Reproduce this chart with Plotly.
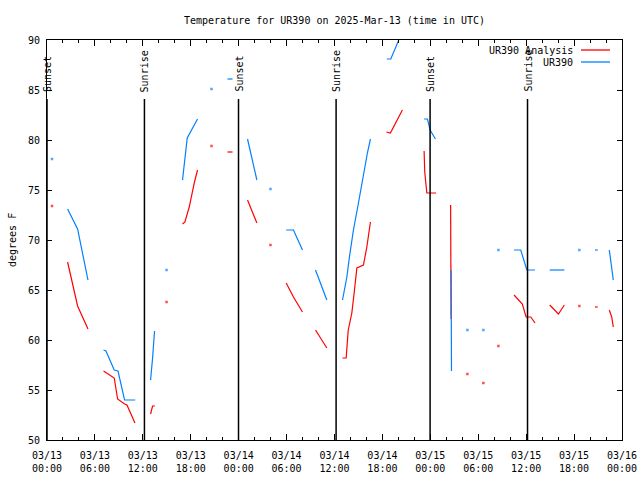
import pandas as pd
import plotly.graph_objects as go

# ---- data (hours since 2025-03-13 00:00 UTC, temperatures in deg F) ----
ur390_hours = [0.63, None,
               2.58, 3.83, 5.13, None,
               7.08, 7.38, 8.42, 8.89, 9.71, 11.05, None,
               12.97, 13.09, 13.22, 13.34, 13.47, None,
               14.97, None,
               16.97, 17.15, 17.43, 17.56, 18.85, None,
               20.60, None,
               22.60, 23.23, None,
               25.11, 26.28, None,
               27.98, None,
               29.95, 30.86, 31.99, None,
               33.62, 35.04, None,
               37.00, 37.55, 37.87, 38.37, 39.00, 39.62, 40.12, 40.50, None,
               42.55, 43.05, 44.52, None,
               47.22, 47.64, 47.97, 48.64, None,
               50.60, 50.65, None,
               52.64, None,
               54.64, None,
               56.52, None,
               58.48, 59.32, 60.08, 61.11, None,
               62.95, 64.04, 64.78, None,
               66.66, None,
               68.62, 68.96, None,
               70.41, 70.66, 70.91]
ur390_temps = [78.1, None,
               73.1, 71.1, 66.0, None,
               59.0, 58.9, 57.0, 56.9, 54.0, 54.0, None,
               56.0, 56.8, 58.2, 59.5, 60.9, None,
               67.0, None,
               76.0, 77.5, 79.6, 80.2, 82.1, None,
               85.1, None,
               86.1, 86.1, None,
               80.1, 76.0, None,
               75.1, None,
               71.0, 71.0, 69.0, None,
               67.0, 64.0, None,
               64.0, 66.3, 68.3, 71.0, 73.7, 76.7, 78.7, 80.1, None,
               88.1, 88.1, 90.9, None,
               82.1, 82.1, 81.0, 80.1, None,
               67.0, 56.9, None,
               61.0, None,
               61.0, None,
               69.0, None,
               69.0, 69.0, 67.0, 67.0, None,
               67.0, 67.0, 67.0, None,
               69.0, None,
               69.0, 69.0, None,
               69.0, 67.7, 66.0]

analysis_hours = [0.63, None,
                  2.58, 3.83, 5.13, None,
                  7.08, 7.51, 8.05, 8.42, 8.84, 9.17, 9.71, 10.01, 11.01, None,
                  12.97, 13.09, 13.22, 13.52, None,
                  14.97, None,
                  16.97, 17.27, 17.81, 18.15, 18.47, 18.85, None,
                  20.60, None,
                  22.60, 23.23, None,
                  25.11, 26.28, None,
                  27.98, None,
                  29.95, 30.86, 31.99, None,
                  33.62, 35.04, None,
                  37.00, 37.46, 37.72, 38.17, 38.46, 38.80, 39.62, 40.05, 40.50, None,
                  42.50, 43.00, 44.50, None,
                  47.22, 47.30, 47.56, 48.72, None,
                  50.54, 50.60, None,
                  52.64, None,
                  54.64, None,
                  56.52, None,
                  58.48, 59.24, 59.52, 59.99, 60.58, 61.11, None,
                  62.95, 64.04, 64.78, None,
                  66.66, None,
                  68.62, 68.96, None,
                  70.41, 70.71, 70.91]
analysis_temps = [73.4, None,
                  67.8, 63.4, 61.1, None,
                  56.9, 56.7, 56.4, 56.2, 54.1, 53.9, 53.6, 53.5, 51.7, None,
                  52.6, 53.2, 53.4, 53.4, None,
                  63.8, None,
                  71.6, 71.8, 73.3, 74.7, 75.8, 77.0, None,
                  79.4, None,
                  78.8, 78.8, None,
                  74.0, 71.7, None,
                  69.5, None,
                  65.7, 64.3, 62.8, None,
                  61.0, 59.2, None,
                  58.2, 58.2, 61.0, 62.7, 64.7, 67.2, 67.5, 69.3, 71.8, None,
                  80.8, 80.7, 83.0, None,
                  78.9, 76.8, 74.7, 74.7, None,
                  73.5, 62.1, None,
                  56.6, None,
                  55.7, None,
                  59.4, None,
                  64.5, 63.9, 63.6, 62.3, 62.3, 61.7, None,
                  63.5, 62.6, 63.5, None,
                  63.4, None,
                  63.3, 63.3, None,
                  63.0, 62.3, 61.3]

sunset_hours = [0.0, 23.98, 47.97]
sunrise_hours = [12.20, 36.20, 60.17]

title_text = "Temperature for UR390 on 2025-Mar-13 (time in UTC)"
y_title = "degrees F"
series_names = ["UR390 Analysis", "UR390"]

# ---- helpers ----
base = pd.Timestamp("2025-03-13 00:00")


def to_time(hours):
    return [None if h is None else (base + pd.Timedelta(hours=h)).strftime("%Y-%m-%d %H:%M:%S")
            for h in hours]


def isolated_sizes(hours, size=2.5):
    # show a marker only where a sample has no neighbour to draw a line to
    out = []
    n = len(hours)
    for i, h in enumerate(hours):
        prev_none = i == 0 or hours[i - 1] is None
        next_none = i == n - 1 or hours[i + 1] is None
        out.append(size if (h is not None and prev_none and next_none) else 0)
    return out


FONT = "DejaVu Sans Mono"
RED = "#ff0000"
BLUE = "#0080ff"

W, H = 640, 480
ML, MR, MT, MB = 47, 18, 40, 40
PW, PH = W - ML - MR, H - MT - MB


def px_x(px):
    return (px - ML) / PW


def px_y(py):
    return (H - MB - py) / PH


fig = go.Figure()
fig.add_trace(go.Scatter(x=to_time(analysis_hours), y=analysis_temps, name=series_names[0],
                         mode="lines+markers", connectgaps=False,
                         line=dict(color=RED, width=1.2),
                         marker=dict(color=RED, size=isolated_sizes(analysis_hours),
                                     symbol="square", line=dict(width=0)),
                         showlegend=False))
fig.add_trace(go.Scatter(x=to_time(ur390_hours), y=ur390_temps, name=series_names[1],
                         mode="lines+markers", connectgaps=False,
                         line=dict(color=BLUE, width=1.2),
                         marker=dict(color=BLUE, size=isolated_sizes(ur390_hours),
                                     symbol="square", line=dict(width=0)),
                         showlegend=False))

shapes = []
annotations = []
for label, hours in (("Sunset", sunset_hours), ("Sunrise", sunrise_hours)):
    for h in hours:
        t = to_time([h])[0]
        shapes.append(dict(type="line", xref="x", yref="y", x0=t, x1=t, y0=50, y1=84.1,
                           line=dict(color="black", width=1.5)))
        annotations.append(dict(x=t, y=84.6, xref="x", yref="y", text=label, textangle=-90,
                                showarrow=False, xanchor="center", yanchor="bottom",
                                font=dict(family=FONT, size=10, color="black")))

# legend drawn gnuplot-style: text then line sample
for i, (name, col) in enumerate(zip(series_names, [RED, BLUE])):
    py = 50 + 12 * i
    annotations.append(dict(x=px_x(575), y=px_y(py), xref="paper", yref="paper", text=name,
                            showarrow=False, xanchor="right", yanchor="middle",
                            font=dict(family=FONT, size=10, color="black")))
    shapes.append(dict(type="line", xref="paper", yref="paper", x0=px_x(581), x1=px_x(610),
                       y0=px_y(py), y1=px_y(py), line=dict(color=col, width=1.3)))

annotations.append(dict(x=px_x(12), y=0.5, xref="paper", yref="paper", text=y_title,
                        textangle=-90, showarrow=False, xanchor="center", yanchor="middle",
                        font=dict(family=FONT, size=10, color="black")))

fig.update_layout(
    width=W, height=H,
    margin=dict(l=ML, r=MR, t=MT, b=MB, autoexpand=False),
    paper_bgcolor="white", plot_bgcolor="white",
    font=dict(family=FONT, size=10, color="black"),
    title=dict(text=title_text, x=0.5, xref="paper", xanchor="center",
               y=1 - 20 / H, yref="container", yanchor="middle", automargin=False,
               font=dict(family=FONT, size=10, color="black")),
    shapes=shapes, annotations=annotations,
    xaxis=dict(type="date", automargin=False,
               range=[to_time([0])[0], to_time([72])[0]],
               tick0=to_time([0])[0], dtick=6 * 3600 * 1000,
               tickformat="%m/%d<br>%H:%M",
               ticks="inside", ticklen=6, tickcolor="black", tickwidth=1,
               ticklabelstandoff=6,
               minor=dict(tick0=to_time([0])[0], dtick=2 * 3600 * 1000, ticks="inside",
                          ticklen=3, tickcolor="black", showgrid=False),
               showline=True, linecolor="black", linewidth=1, mirror="allticks",
               showgrid=False, zeroline=False,
               tickfont=dict(family=FONT, size=10, color="black")),
    yaxis=dict(range=[50, 90], dtick=5, tick0=50, automargin=False,
               ticks="inside", ticklen=5, tickcolor="black", tickwidth=1,
               ticklabelstandoff=4,
               showline=True, linecolor="black", linewidth=1, mirror="allticks",
               showgrid=False, zeroline=False,
               tickfont=dict(family=FONT, size=10, color="black")),
)

fig.write_html("out.html", config={"displayModeBar": False},
               post_script="document.body.style.margin='0';document.body.style.padding='0';")
